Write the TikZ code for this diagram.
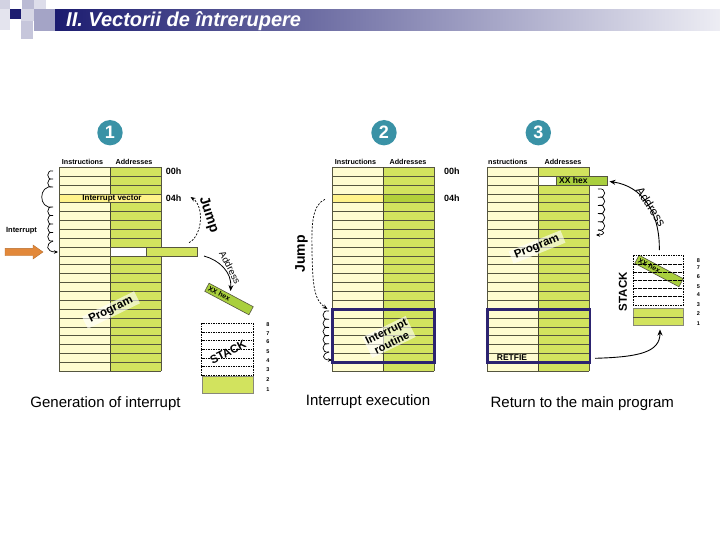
\documentclass[tikz,border=0pt]{standalone}
\usepackage{fontspec}
\setmainfont{Liberation Sans}
\usetikzlibrary{arrows.meta}
\definecolor{instrc}{HTML}{FEFCD0}
\definecolor{addrc}{HTML}{D2E35E}
\definecolor{rowc}{HTML}{55553F}
\definecolor{vecy}{HTML}{FFF38A}
\definecolor{vecg}{HTML}{B2D03A}
\definecolor{barg}{HTML}{A9CF3E}
\definecolor{tealc}{HTML}{3A92A6}
\definecolor{navyc}{HTML}{1C1C70}
\definecolor{purc}{HTML}{2C2370}
\definecolor{orangec}{HTML}{E2883A}
\newcommand{\fz}[1]{\fontsize{#1}{#1}\selectfont}
\newcommand{\memtab}[1]{%
  \fill[instrc] ({#1},167.3) rectangle ++(51,204);
  \fill[addrc] ({#1+51},167.3) rectangle ++(51,204);
  \foreach \i in {0,...,23}{\draw[rowline] ({#1},{167.3+\i*8.87}) -- ++(102,0);}
  \draw[rowline] ({#1},167.3) -- ++(0,204);
  \draw[rowline] ({#1+102},167.3) -- ++(0,204);
  \draw[colline] ({#1+51},167.3) -- ++(0,204);
}
\begin{document}
\begin{tikzpicture}[x=1pt,y=-1pt,
  rowline/.style={draw=rowc, line width=0.8pt},
  colline/.style={draw=rowc!80!black, line width=1.1pt},
  hdr/.style={font=\fz{7.2}\bfseries, inner sep=0pt},
  hexlab/.style={font=\fz{9}\bfseries, inner sep=0pt, anchor=west},
  tagbg/.style={fill=white, fill opacity=0.6, text opacity=1, inner sep=1.5pt, font=\fz{11.5}\bfseries},
  circnum/.style={circle, fill=tealc, minimum size=25.4pt, inner sep=0pt, text=white, font=\fz{18}\bfseries},
  caption/.style={font=\fz{15}, inner sep=0pt},
  bigbold/.style={font=\fz{14}\bfseries, inner sep=0pt},
  dashedarrow/.style={draw=black, line width=0.7pt, dash pattern=on 2pt off 1.5pt, -{Stealth[length=5pt,width=4pt]}},
  solidarrow/.style={draw=black, line width=0.9pt, -{Stealth[length=6pt,width=5pt]}},
  curl/.style={draw=black, line width=0.7pt},
  stackd/.style={draw=black, line width=0.8pt, dash pattern=on 1.5pt off 1pt},
  stacknum/.style={font=\fz{5.5}\bfseries, inner sep=0pt},
  purbox/.style={draw=purc, line width=2.6pt},
  xxtag/.style={draw=rowc, fill=barg, line width=0.6pt, minimum height=8pt, text width=46pt, inner sep=2pt, align=left, font=\fz{7}\bfseries}
]
\useasboundingbox (0,0) rectangle (720,540);
\fill[white] (0,0) rectangle (720,540);

% ---------- title decoration ----------
\fill[navyc!20] (0,0) rectangle (10,9);
\fill[navyc!30] (22,0) rectangle (34,9);
\fill[navyc!15] (34,0) rectangle (46,9);
\fill[navyc] (10,9) rectangle (21,19);
\fill[navyc!18] (21,9) rectangle (34,21);
\fill[navyc!12] (0,9) rectangle (10,30);
\fill[navyc!40] (34,9) rectangle (55,31);
\fill[navyc!25] (21,21) rectangle (33,39);
\shade[left color=navyc, right color=navyc!8] (55,10) rectangle (720,31);
\node[anchor=west, text=white, font=\fz{20}\bfseries\itshape, inner sep=0pt] (title) at (66,21) {II. Vectorii de întrerupere};

% ---------- panel numbers ----------
\node[circnum] (c1) at (110,132.7) {1};
\node[circnum] (c2) at (384,132.7) {2};
\node[circnum] (c3) at (538.3,132.7) {3};

% ================= PANEL 1 =================
\memtab{59.3}
\draw[rowline, fill=vecy] (59.3,193.91) rectangle (161.3,202.78);
\node[font=\fz{8}\bfseries, inner sep=0pt] (vec) at (112,198.3) {Interrupt vector};
\draw[rowline, fill=white] (110.3,247.13) rectangle (146.7,256);
\draw[rowline, fill=addrc] (146.7,247.13) rectangle (197.3,256);
\node[hdr] (h1a) at (82.5,161.5) {Instructions};
\node[hdr] (h1b) at (134,161.5) {Addresses};
\node[hexlab] (z1) at (165.7,171.7) {00h};
\node[hexlab] (f1) at (165.7,198.5) {04h};
\node[font=\fz{7.5}\bfseries, inner sep=0pt] (intl) at (21.5,231) {Interrupt};
\draw[draw=orangec!80!black, fill=orangec, line width=0.4pt]
  (5,248.3) -- (33,248.3) -- (33,245) -- (43,252) -- (33,259) -- (33,255.7) -- (5,255.7) -- cycle;
% curls panel 1
\draw[curl] (53,171) \foreach \k in {1,2}{ .. controls (46,{171+(\k-1)*8-2}) and (46,{171+\k*8+2}) .. (53,{171+\k*8}) }
  .. controls (38,184) and (38,210) .. (53,207)
  \foreach \k in {1,...,4}{ .. controls (46,{207+(\k-1)*8.5-2}) and (46,{207+\k*8.5+2}) .. (53,{207+\k*8.5}) };
\coordinate (cu1s) at (53,241);
\coordinate (cu1e) at (58,252);
\draw[curl, -{Stealth[length=4pt,width=3.5pt]}] (cu1s) .. controls (45,244) and (46,252) .. (cu1e);
% jump arrow panel 1
\coordinate (j1s) at (189,242.7);
\coordinate (j1e) at (190.5,197);
\draw[dashedarrow] (j1s) .. controls (203,235) and (204,206) .. (j1e);
\node[bigbold, rotate=-72] (jump1) at (208.5,215) {Jump};
% address arrow panel 1
\coordinate (a1s) at (204,256);
\coordinate (a1e) at (230.5,291);
\draw[solidarrow, line width=0.8pt] (a1s) .. controls (219,260) and (232,272) .. (a1e);
\node[font=\fz{9.5}, inner sep=0pt, rotate=-62] (addr1) at (230,267.5) {Address};
\node[xxtag, rotate=-28] (xx1) at (229,299) {XX hex};
% program tag panel 1
\node[tagbg, rotate=26, minimum width=58pt] (prog1) at (111,310) {Program};
% stack panel 1
\foreach \k in {0,...,5}{\draw[stackd] (201.7,{323.3+\k*8.67}) rectangle ++(51.6,8.67);}
\draw[draw=rowc!70, fill=addrc, line width=0.6pt] (202.7,376.7) rectangle (253.3,393.3);
\node[font=\fz{11.5}\bfseries, inner sep=0pt, rotate=27] (st1) at (228,352) {STACK};
\foreach \n/\yy in {8/325,7/333.5,6/342,5/351.7,4/361,3/370,2/379.5,1/390}{\node[stacknum] at (268,\yy) {\n};}
\node[caption] (cap1) at (105.5,404) {Generation of interrupt};

% ================= PANEL 2 =================
\memtab{332.3}
\draw[rowline, fill=vecy] (332.3,193.91) rectangle (383.3,202.78);
\draw[rowline, fill=vecg] (383.3,193.91) rectangle (434.3,202.78);
\draw[colline] (383.3,193.91) -- (383.3,202.78);
\node[hdr] (h2a) at (355.5,161.5) {Instructions};
\node[hdr] (h2b) at (408,161.5) {Addresses};
\node[hexlab] (z2) at (444,171.7) {00h};
\node[hexlab] (f2) at (444,198.5) {04h};
\draw[purbox] (332.3,309.2) rectangle (434.3,362.4);
\node[tagbg, rotate=26, align=center, font=\fontsize{11}{12.5}\selectfont\bfseries] (rout) at (389,337) {Interrupt\\routine};
% jump arrow panel 2
\coordinate (j2s) at (325,199.3);
\coordinate (j2e) at (327.5,309);
\draw[dashedarrow] (j2s) .. controls (312,205) and (311.5,225) .. (312,250)
  .. controls (312.5,285) and (314,300) .. (j2e);
\node[bigbold, rotate=90] (jump2) at (301.5,254) {Jump};
% curls panel 2
\draw[curl] (329,311) \foreach \k in {1,...,5}{ .. controls (321,{311+(\k-1)*8.2-2}) and (321,{311+\k*8.2+2}) .. (329,{311+\k*8.2}) };
\coordinate (cu2s) at (329,352);
\coordinate (cu2e) at (332,360);
\draw[curl, -{Stealth[length=4pt,width=3.5pt]}] (cu2s) .. controls (321,354) and (322,360) .. (cu2e);
\node[caption] (cap2) at (368,401.7) {Interrupt execution};

% ================= PANEL 3 =================
\memtab{487.3}
\draw[rowline, fill=white] (538.3,176.17) rectangle (556,185.04);
\draw[rowline, fill=barg] (556,176.17) rectangle (607.3,185.04);
\node[font=\fz{8.5}\bfseries, inner sep=0pt, anchor=west] (xx3b) at (559,180.8) {XX hex};
\node[hdr, anchor=west] (h3a) at (488,161.5) {nstructions};
\node[hdr] (h3b) at (563,161.5) {Addresses};
\draw[purbox] (487.3,309.2) rectangle (590,362.4);
\node[font=\fz{8.5}\bfseries, inner sep=0pt] (ret) at (512,358) {RETFIE};
\node[tagbg, rotate=22, minimum width=56pt] (prog3) at (537,247) {Program};
% curls panel 3
\draw[curl] (598,189) \foreach \k in {1,...,5}{ .. controls (607,{189+(\k-1)*8.2-2}) and (607,{189+\k*8.2+2}) .. (598,{189+\k*8.2}) };
\coordinate (cu3s) at (598,230);
\coordinate (cu3e) at (596,235);
\draw[curl, -{Stealth[length=4pt,width=3.5pt]}] (cu3s) .. controls (606,231) and (605,235) .. (cu3e);
% address arrow panel 3
\coordinate (a3s) at (659.3,250);
\coordinate (a3e) at (609.5,181.5);
\draw[solidarrow] (a3s) .. controls (660,212) and (642,186) .. (a3e);
\node[font=\fz{12}, inner sep=0pt, rotate=-57] (addr3) at (651,206.5) {Address};
% stack panel 3
\node[xxtag, rotate=-28] (xx3) at (659,271) {XX hex};
\foreach \k in {0,...,5}{\draw[stackd] (633.3,{255.7+\k*8.22}) rectangle ++(50,8.22);}
\draw[draw=rowc!70, fill=addrc, line width=0.6pt] (633.3,308.3) rectangle (683.3,325);
\draw[draw=rowc, line width=0.6pt] (633.3,317) -- (683.3,317);
\node[font=\fz{11.5}\bfseries, inner sep=0pt, rotate=90] (st3) at (623,291.7) {STACK};
\foreach \n/\yy in {8/260.7,7/268,6/277,5/286.7,4/295,3/304.3,2/313.7,1/324}{\node[stacknum] at (698.3,\yy) {\n};}
% return arrow
\coordinate (r3s) at (595,358.3);
\coordinate (r3e) at (660,329.5);
\draw[solidarrow] (r3s) .. controls (640,357) and (660,352) .. (r3e);
\node[caption] (cap3) at (582.3,404) {Return to the main program};
\end{tikzpicture}
\end{document}
